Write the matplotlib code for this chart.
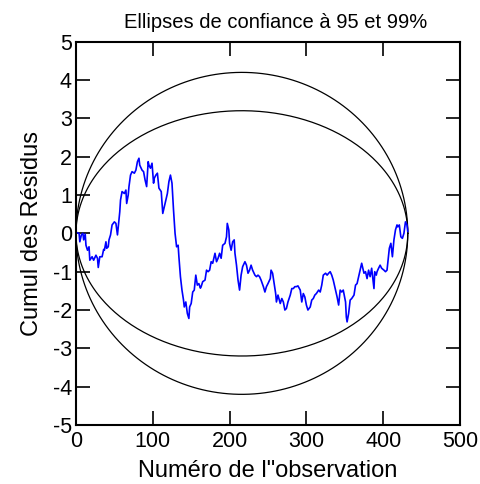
"""Cumulative residuals with 95 and 99% confidence ellipses."""

import numpy as np
import matplotlib
matplotlib.use('Agg')
import matplotlib.pyplot as plt

plt.rcParams['font.family'] = ['Liberation Sans', 'DejaVu Sans']
plt.rcParams['axes.unicode_minus'] = False

N_OBS = 432
ELLIPSE_HEIGHTS = [3.2, 4.2]  # 95% and 99%

obs = [
    0, 1, 4, 5, 7, 9, 10, 12, 13, 15, 17, 18, 21, 23, 26, 28, 29, 31, 34, 36,
    37, 39, 40, 42, 43, 45, 47, 50, 52, 54, 55, 57, 58, 60, 63, 65, 66, 68,
    69, 71, 73, 76, 78, 80, 82, 83, 86, 88, 90, 92, 94, 95, 97, 99, 101, 102,
    104, 106, 108, 111, 113, 115, 117, 119, 121, 123, 125, 127, 129, 131, 133,
    134, 136, 138, 140, 141, 143, 145, 147, 148, 150, 152, 154, 156, 158, 160,
    162, 163, 165, 168, 170, 172, 174, 176, 178, 181, 183, 185, 187, 189, 191,
    194, 196, 197, 199, 200, 202, 204, 206, 207, 209, 211, 213, 215, 217, 220,
    222, 224, 226, 228, 230, 233, 235, 237, 239, 241, 244, 246, 248, 250, 253,
    254, 256, 258, 260, 261, 263, 266, 268, 270, 272, 274, 276, 279, 281, 283,
    285, 287, 289, 292, 294, 296, 298, 300, 302, 305, 307, 309, 311, 313, 316,
    318, 320, 322, 325, 327, 329, 331, 333, 335, 338, 340, 342, 344, 346, 348,
    351, 352, 353, 355, 357, 359, 362, 364, 366, 368, 370, 372, 375, 377, 379,
    381, 383, 385, 388, 389, 391, 392, 394, 396, 398, 401, 403, 405, 408, 410,
    412, 414, 416, 418, 419, 421, 423, 425, 427, 429, 431, 432,
]
cusum = [
    0.0, 0.02, 0.0, -0.22, -0.04, 0.0, -0.17, -0.02, -0.31, -0.44, -0.35,
    -0.70, -0.61, -0.70, -0.57, -0.65, -0.89, -0.61, -0.61, -0.42, -0.44,
    -0.22, -0.39, -0.35, -0.17, -0.04, 0.22, 0.30, 0.26, -0.04, 0.17, 0.56,
    0.87, 1.09, 1.04, 1.13, 0.78, 1.00, 1.22, 1.52, 1.61, 1.57, 1.65, 1.87,
    1.96, 1.78, 1.65, 1.61, 1.39, 1.22, 1.87, 1.78, 1.70, 1.83, 1.31, 1.44,
    1.52, 1.57, 1.18, 1.09, 0.52, 0.69, 0.87, 1.04, 1.35, 1.52, 1.31, 0.61,
    0.0, -0.35, -0.31, -0.61, -1.13, -1.48, -1.74, -1.92, -1.79, -2.09, -2.22,
    -1.92, -1.83, -1.53, -1.48, -1.09, -1.35, -1.31, -1.43, -1.39, -1.26,
    -1.22, -0.96, -1.00, -0.96, -0.74, -0.78, -0.52, -0.74, -0.65, -0.52,
    -0.65, -0.31, -0.26, -0.09, 0.26, 0.09, -0.26, -0.44, -0.22, -0.17, -0.52,
    -0.83, -1.22, -1.48, -1.09, -0.87, -0.74, -0.83, -1.04, -0.96, -0.83,
    -0.96, -1.09, -1.13, -1.09, -1.13, -1.22, -1.39, -1.53, -1.39, -1.31,
    -1.18, -0.96, -1.04, -1.31, -1.57, -1.79, -1.61, -1.83, -1.70, -1.79,
    -2.00, -1.96, -1.79, -1.61, -1.44, -1.44, -1.39, -1.39, -1.37, -1.48,
    -1.79, -1.57, -1.66, -1.87, -2.00, -1.92, -1.74, -1.70, -1.61, -1.57,
    -1.48, -1.53, -1.35, -1.09, -1.04, -1.09, -1.04, -1.00, -1.09, -1.22,
    -1.48, -1.66, -1.87, -1.48, -1.53, -1.48, -1.79, -2.18, -2.31, -2.09,
    -1.74, -1.70, -1.61, -1.35, -1.31, -1.13, -0.96, -0.78, -1.04, -1.00,
    -1.18, -0.96, -1.13, -0.91, -1.44, -1.00, -1.09, -1.00, -0.91, -0.83,
    -0.91, -0.96, -1.00, -0.96, -0.39, -0.26, -0.61, -0.17, 0.09, 0.22, 0.17,
    0.22, -0.09, -0.13, 0.0, 0.30, 0.22, 0.05,
]


def main():
    fig = plt.figure(figsize=(4.8, 4.84), dpi=100)
    ax = fig.add_axes([0.1583, 0.1219, 0.8, 0.7919])

    t = np.linspace(0, 2 * np.pi, 400)
    half = N_OBS / 2
    for height in ELLIPSE_HEIGHTS:
        ax.plot(half + half * np.cos(t), height * np.sin(t),
                color='black', linewidth=0.9)

    ax.plot(obs, cusum, color='#0000ff', linewidth=1.2)

    ax.set_xlim(0, 500)
    ax.set_ylim(-5, 5)
    ax.set_xticks(range(0, 501, 100))
    ax.set_yticks(range(-5, 6))
    ax.tick_params(direction='in', length=10, width=1.2, labelsize=15.5,
                   top=True, right=True)
    ax.tick_params(axis='x', pad=4)
    ax.tick_params(axis='y', pad=3)
    for spine in ax.spines.values():
        spine.set_linewidth(1.5)

    ax.set_title('Ellipses de confiance à 95 et 99%', fontsize=14.5, pad=10,
                 x=0.52)
    ax.set_xlabel('Numéro de l"observation', fontsize=17, labelpad=6)
    ax.set_ylabel('Cumul des Résidus', fontsize=17, labelpad=7)

    fig.savefig('out.png', dpi=100)


if __name__ == '__main__':
    main()
